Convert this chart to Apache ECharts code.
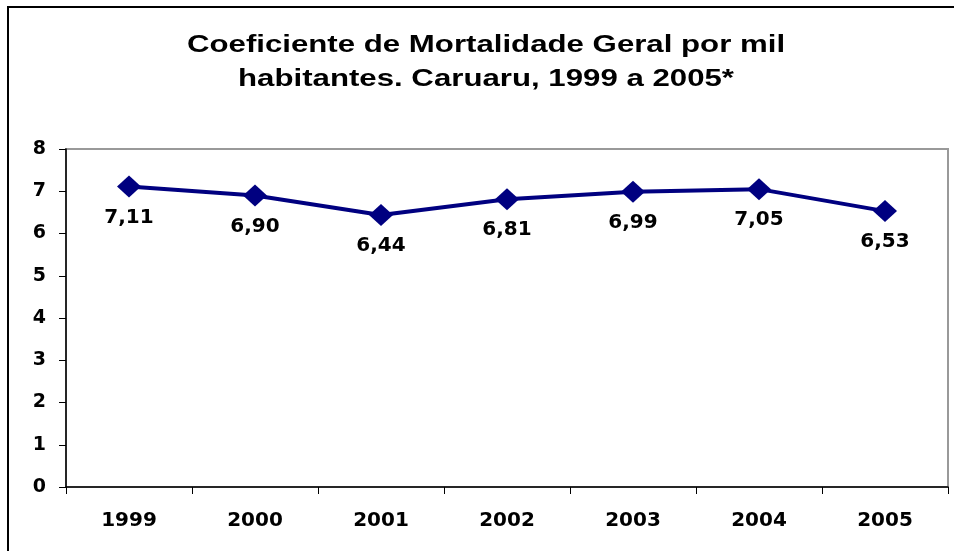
<!DOCTYPE html>
<html>
<head>
<meta charset="UTF-8">
<script src="https://cdn.jsdelivr.net/npm/echarts@6/dist/echarts.min.js"></script>
<style>
  html,body{margin:0;padding:0;background:#fff;}
  #chart{width:954px;height:551px;}
</style>
</head>
<body>
<div id="chart"></div>
<script>
// dados
const anos = ['1999','2000','2001','2002','2003','2004','2005'];
const coeficiente = [7.11, 6.90, 6.44, 6.81, 6.99, 7.05, 6.53];
const tituloLinhas = ['Coeficiente de Mortalidade Geral por mil', 'habitantes. Caruaru, 1999 a 2005*'];

const fmt = v => v.toFixed(2).replace('.', ',');
const font = '"DejaVu Sans", Arial, sans-serif';
const fontTitulo = 'Arial, "Liberation Sans", sans-serif';

// o titulo do original vem esticado na horizontal
const tituloGraphics = tituloLinhas.map((t, i) => ({
  type: 'text', silent: true,
  x: 486, y: 45 + i * 34, scaleX: 1.3,
  style: {
    text: t, align: 'center', verticalAlign: 'middle',
    font: 'bold 24px ' + fontTitulo, fill: '#000'
  }
}));

const chart = echarts.init(document.getElementById('chart'));
chart.setOption({
  animation: false,
  graphic: [{
    type: 'rect', silent: true,
    shape: {x: 8, y: 7, width: 1000, height: 600},
    style: {fill: 'none', stroke: '#000', lineWidth: 2}
  }].concat(tituloGraphics),
  grid: {
    left: 66, right: 6, top: 149, bottom: 64,
    show: true, borderColor: '#999', borderWidth: 2, backgroundColor: '#fff'
  },
  xAxis: {
    type: 'category', data: anos, boundaryGap: true,
    axisLine: {lineStyle: {color: '#000', width: 1.5}},
    axisTick: {show: true, length: 7, lineStyle: {color: '#000'}},
    axisLabel: {fontFamily: font, fontSize: 20, fontWeight: 'bold', color: '#000', margin: 24}
  },
  yAxis: {
    type: 'value', min: 0, max: 8, interval: 1,
    axisLine: {show: true, lineStyle: {color: '#000', width: 1.5}},
    axisTick: {show: true, length: 7, lineStyle: {color: '#000'}},
    splitLine: {show: false},
    axisLabel: {fontFamily: font, fontSize: 19, fontWeight: 'bold', color: '#000', margin: 20}
  },
  series: [{
    type: 'line', data: coeficiente,
    lineStyle: {color: '#000080', width: 4},
    itemStyle: {color: '#000080'},
    symbol: 'diamond', symbolSize: [24, 22],
    label: {
      show: true, position: 'bottom', distance: 10,
      formatter: p => fmt(p.value),
      fontFamily: font, fontSize: 20, fontWeight: 'bold', color: '#000'
    }
  }]
});
</script>
</body>
</html>
